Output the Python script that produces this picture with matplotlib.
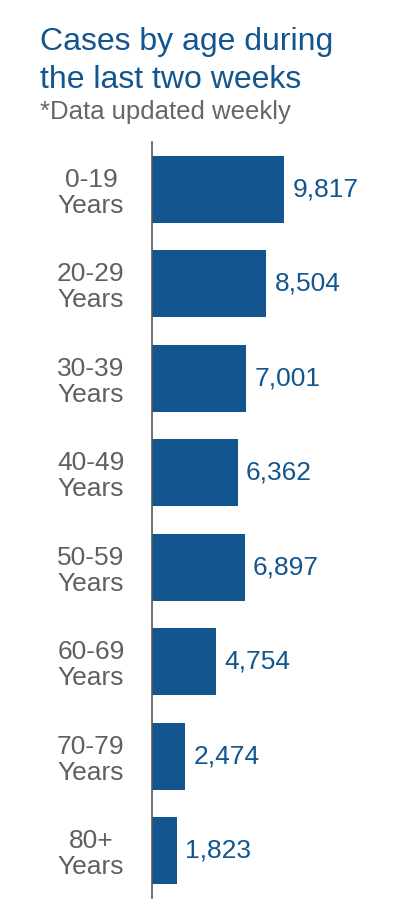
import matplotlib.pyplot as plt

plt.rcParams['font.family'] = ['Liberation Sans', 'DejaVu Sans']

age_groups = ["0-19\nYears", "20-29\nYears", "30-39\nYears", "40-49\nYears",
              "50-59\nYears", "60-69\nYears", "70-79\nYears", "80+\nYears"]
cases = [9817, 8504, 7001, 6362, 6897, 4754, 2474, 1823]

blue = "#13558f"
gray = "#606060"

fig = plt.figure(figsize=(3.94, 9.16), dpi=100)
ax = fig.add_axes([152 / 394, 18 / 916, 242 / 394, 756 / 916])

pos = range(len(cases))
bars = ax.barh(pos, cases, height=0.71, color=blue)
ax.set_ylim(7.5, -0.5)
ax.set_xlim(0, 242 / 0.01345)

ax.set_yticks(list(pos))
ax.set_yticklabels(age_groups, ha="center", fontsize=19, color=gray, linespacing=1.1)
ax.tick_params(axis="y", length=0, pad=44)
ax.set_xticks([])
for s in ["top", "right", "bottom"]:
    ax.spines[s].set_visible(False)
ax.spines["left"].set_color("#555555")
ax.spines["left"].set_linewidth(1.2)

for b, v in zip(bars, cases):
    ax.annotate(f"{v:,}", (b.get_width(), b.get_y() + b.get_height() / 2),
                xytext=(6, 0), textcoords="offset points",
                va="center", ha="left", fontsize=19, color=blue)

fig.text(40 / 394, 1 - 50 / 916, "Cases by age during",
         fontsize=23, color=blue, va="baseline", ha="left")
fig.text(40 / 394, 1 - 88 / 916, "the last two weeks",
         fontsize=23, color=blue, va="baseline", ha="left")
fig.text(40 / 394, 1 - 119 / 916, "*Data updated weekly",
         fontsize=18.5, color="#666666", va="baseline", ha="left")

fig.savefig("out.png", dpi=100)
